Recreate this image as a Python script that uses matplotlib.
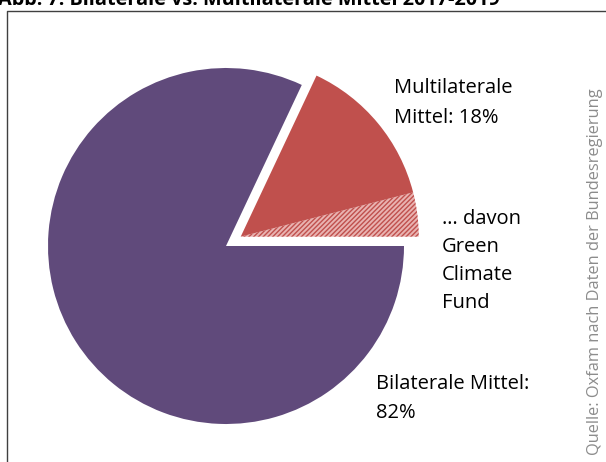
"""Pie chart: bilateral vs. multilateral climate finance 2017-2019."""
import math

import matplotlib
import matplotlib.pyplot as plt

matplotlib.use("Agg")

# Data (percent of total).
bilateral = 82
multilateral = 18
green_climate_fund = 4  # part of the multilateral share

labels = ["Multilaterale\nMittel: 18%", "… davon\nGreen\nClimate\nFund", "Bilaterale Mittel:\n82%"]
title = "Abb. 7: Bilaterale vs. Multilaterale Mittel 2017-2019"
source = "Quelle: Oxfam nach Daten der Bundesregierung"

PURPLE = "#604A7B"
RED = "#C0504D"

W, H = 606, 462


def plot():
    plt.rcParams["font.family"] = ["Open Sans", "DejaVu Sans"]
    plt.rcParams["hatch.linewidth"] = 1.0

    fig = plt.figure(figsize=(W / 100, H / 100), dpi=100)
    fig.patch.set_facecolor("white")
    ax = fig.add_axes([0, 0, 1, 1])

    # Pie, in pixel coordinates (y up).
    cx, cy, r = 226, H - 246, 178
    values = [green_climate_fund, multilateral - green_climate_fund, bilateral]
    wedges, _ = ax.pie(
        values,
        colors=["white", RED, PURPLE],
        startangle=0,
        counterclock=True,
        radius=r,
        center=(cx, cy),
        wedgeprops=dict(linewidth=0),
        frame=True,
    )

    # Explode the whole multilateral share along its bisector.
    mid = math.radians(360 * multilateral / 100 / 2)
    offset = 0.098 * r
    for w in wedges[:2]:
        w.set_center((cx + offset * math.cos(mid), cy + offset * math.sin(mid)))

    gcf = wedges[0]
    gcf.set_hatch("///////")
    gcf.set_edgecolor(RED)
    gcf.set_facecolor("#E9B3B1")

    ax.set_xlim(0, W)
    ax.set_ylim(0, H)
    ax.set_aspect("auto")
    ax.axis("off")

    # Frame lines (left and top).
    ax.plot([7, 7, W], [0, H - 11, H - 11], color="#404040", linewidth=1.0)

    # Labels.
    ax.text(394, H - 78, labels[0], fontsize=14.5, va="top", ha="left",
            linespacing=1.68, color="black")
    ax.text(442, H - 209, labels[1], fontsize=14.5, va="top", ha="left",
            linespacing=1.53, color="black")
    ax.text(376, H - 374, labels[2], fontsize=14.5, va="top", ha="left",
            linespacing=1.62, color="black")

    # Source, rotated.
    ax.text(595, H - 455, source, fontsize=11.8, rotation=90, va="bottom",
            ha="center", color="#8C8C8C")

    # Title, clipped at the top edge as in the original.
    ax.text(-2, H - 5, title, fontsize=14.3, fontweight="bold", va="baseline",
            ha="left", color="black")

    fig.savefig("out.png", dpi=100)


if __name__ == "__main__":
    plot()
